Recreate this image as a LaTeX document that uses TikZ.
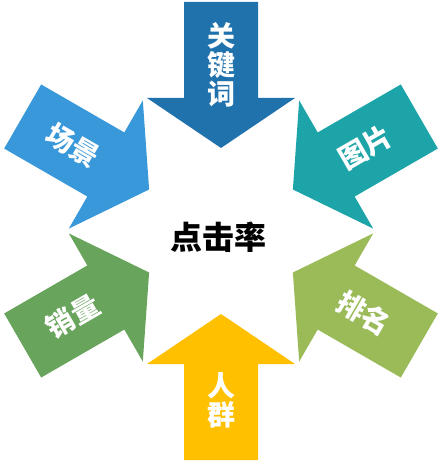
\documentclass[tikz,border=0pt]{standalone}
\usepackage{fontspec}
\newfontfamily\cjk{Noto Sans CJK SC}
\usepackage{tikz}
\usetikzlibrary{positioning, calc}

\definecolor{kwblue}{RGB}{32,114,173}
\definecolor{sceneblue}{RGB}{56,152,217}
\definecolor{picteal}{RGB}{28,164,168}
\definecolor{rankgreen}{RGB}{155,187,89}
\definecolor{crowdyellow}{RGB}{255,192,0}
\definecolor{salesgreen}{RGB}{104,164,92}

\tikzset{
  lbl/.style={text=white, inner sep=0pt, align=center,
    font=\cjk\bfseries\fontsize{28}{29}\selectfont},
  hub/.style={text=black, inner sep=0pt,
    font=\cjk\bfseries\fontsize{32}{32}\selectfont}
}

\begin{document}
\begin{tikzpicture}[x=1pt, y=1pt, line join=miter]

% --- arrow parameters (distances from the centre) ---
\def\rTip{83}
\def\rHead{133}
\def\rEnd{229}
\def\wHead{74}
\def\wShaft{37}

\useasboundingbox (-221,-234) rectangle (226,231);

% ------------------ six arrows pointing inwards ------------------
\foreach \ang/\col in {90/kwblue, 150/sceneblue, 30/picteal,
                       -30/rankgreen, -90/crowdyellow, 210/salesgreen}{
  \fill[\col, rotate=\ang]
    (\rTip,0) -- (\rHead,\wHead) -- (\rHead,\wShaft) -- (\rEnd,\wShaft)
    -- (\rEnd,-\wShaft) -- (\rHead,-\wShaft) -- (\rHead,-\wHead) -- cycle;
}

% labels
\node[lbl] (keyword) at (90:166) {关\\键\\词};
\node[lbl, rotate=-30] (scene) at (150:171) {场景};
\node[lbl, rotate=30] (picture) at (30:167) {图片};
\node[lbl, rotate=-30] (rank) at (-30:165) {排名};
\node[lbl] (crowd) at (-90:169) {人\\群};
\node[lbl, rotate=30] (sales) at (210:171) {销量};

% centre
\node[hub] (ctr) at (-3,-6) {点击率};

\end{tikzpicture}
\end{document}
